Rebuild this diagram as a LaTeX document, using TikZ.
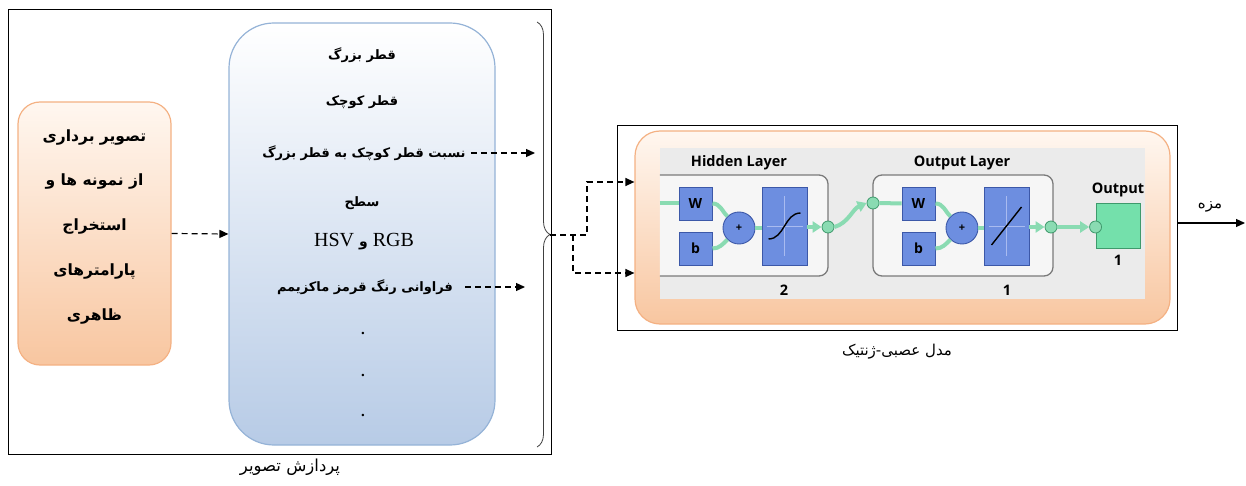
\documentclass[tikz,border=0pt]{standalone}
\usepackage{fontspec}
\setmainfont{Liberation Serif}
\newfontfamily\arabicfont[Script=Arabic]{DejaVu Sans}
\newfontfamily\uifont{Open Sans}
\TeXXeTstate=1
\usetikzlibrary{arrows.meta,decorations.pathreplacing}
\definecolor{orgB}{HTML}{F4B183}
\definecolor{orgT}{HTML}{FFF7F0}
\definecolor{orgBot}{HTML}{F8C6A0}
\definecolor{bluB}{HTML}{95B3D7}
\definecolor{bluBot}{HTML}{B7CBE6}
\definecolor{panelc}{HTML}{EBEBEB}
\definecolor{layerF}{HTML}{F6F6F6}
\definecolor{layerD}{HTML}{7A7A7A}
\definecolor{nnblue}{HTML}{6D8EE0}
\definecolor{nnblueD}{HTML}{3C58A8}
\definecolor{nncross}{HTML}{A9BBF0}
\definecolor{nngreen}{HTML}{8ADBB2}
\definecolor{nngreenD}{HTML}{3E9A6C}
\definecolor{outsq}{HTML}{74E0AB}
\newcommand\fatext[1]{\beginR #1\endR}
\begin{document}
\begin{tikzpicture}[x=1pt,y=-1pt,
  frame/.style={draw=black, line width=1pt, inner sep=0pt},
  orangebox/.style={draw=orgB, line width=1.2pt, rounded corners=22pt, top color=orgT, bottom color=orgBot, inner sep=0pt},
  bluebox/.style={draw=bluB, line width=1.2pt, rounded corners=45pt, top color=white, bottom color=bluBot, inner sep=0pt},
  fatxt/.style={font=\arabicfont\bfseries\fontsize{13}{15}\selectfont, inner sep=0pt},
  fabig/.style={font=\arabicfont\bfseries\fontsize{15.5}{17}\selectfont, inner sep=0pt},
  latxt/.style={font=\fontsize{20}{22}\selectfont, inner sep=0pt},
  dotxt/.style={font=\bfseries\fontsize{15}{17}\selectfont, inner sep=0pt},
  dasharrow/.style={draw, dash pattern=on 6pt off 4pt, line width=1.2pt, -{Triangle[length=9pt,width=8pt]}},
  layerbox/.style={draw=layerD, line width=1.3pt, fill=layerF, rounded corners=9pt, inner sep=0pt},
  nnb/.style={draw=nnblueD, line width=0.9pt, fill=nnblue, inner sep=0pt, font=\uifont\bfseries\fontsize{14}{15}\selectfont},
  gdot/.style={circle, draw=nngreenD, line width=0.8pt, fill=nngreen, minimum size=12pt, inner sep=0pt},
  gline/.style={draw=nngreen, line width=4pt},
  garrow/.style={draw=nngreen, line width=4pt, -{Triangle[length=9pt,width=11pt]}},
  uilabel/.style={font=\uifont\bfseries\fontsize{14.5}{16}\selectfont, inner sep=0pt},
  caption/.style={font=\arabicfont\fontsize{15}{17}\selectfont, inner sep=0pt}
]
\useasboundingbox (0,0) rectangle (1246,486);
% ---------- left part ----------
\node[frame, minimum width=543pt, minimum height=444pt] (leftframe) at (279.5,232) {};
\node[orangebox, minimum width=153pt, minimum height=263pt] (acq) at (94.5,233.5) {};
\node[fabig] (a1) at (94.5,138) {\fatext{تصویر برداری}};
\node[fabig] (a2) at (94.5,182) {\fatext{از نمونه ها و}};
\node[fabig] (a3) at (94.5,227) {\fatext{استخراج}};
\node[fabig] (a4) at (94.5,272) {\fatext{پارامترهای}};
\node[fabig] (a5) at (94.5,317) {\fatext{ظاهری}};
\node[bluebox, minimum width=266pt, minimum height=422pt] (proc) at (362,234) {};
\draw[dasharrow] (acq.east) -- (proc.west);
\node[fatxt] (f1) at (362,55) {\fatext{قطر بزرگ}};
\node[fatxt] (f2) at (362,102) {\fatext{قطر کوچک}};
\node[fatxt] (f3) at (364,153) {\fatext{نسبت قطر کوچک به قطر بزرگ}};
\node[fatxt] (f4) at (362,203) {\fatext{سطح}};
\node[latxt] (f5) at (364,242) {HSV {\arabicfont\bfseries\fontsize{14}{15}\selectfont و} RGB};
\node[fatxt] (f6) at (365,287) {\fatext{فراوانی رنگ قرمز ماکزیمم}};
\node[dotxt] (d1) at (363,333) {.};
\node[dotxt] (d2) at (363,375) {.};
\node[dotxt] (d3) at (363,415) {.};
\coordinate (e3) at (535,153);
\coordinate (e6) at (525,287);
\draw[dasharrow] ([xshift=5pt]f3.east) -- (e3);
\draw[dasharrow] ([xshift=12pt]f6.east) -- (e6);
\draw[decorate, decoration={brace, amplitude=13pt}, line width=0.8pt, black!75] (537,22) -- (537,447);
\node[caption, font=\arabicfont\fontsize{16.5}{18}\selectfont] (cap1) at (290,467) {\fatext{پردازش تصویر}};
% ---------- connectors to the network ----------
\coordinate (bt) at (550,235);
\coordinate (j1) at (573,235);
\coordinate (j2) at (587,235);
% ---------- right part ----------
\node[frame, minimum width=560pt, minimum height=204pt] (nnframe) at (897,228) {};
\node[orangebox, rounded corners=25pt, minimum width=535pt, minimum height=193pt] (nnbox) at (902.5,227.5) {};
\coordinate (i1) at (nnbox.west |- 0,182);
\coordinate (i2) at (nnbox.west |- 0,273);
\draw[dasharrow] (bt) -- (j2) |- (i1);
\draw[dasharrow] (j1) |- (i2);
\node[fill=panelc, minimum width=485pt, minimum height=151pt, inner sep=0pt] (panel) at (902.5,223.5) {};
\begin{scope}
\clip (panel.north west) rectangle (panel.south east);
\node[layerbox, minimum width=183pt, minimum height=101pt] (hid) at (736.5,225.5) {};
\end{scope}
\node[layerbox, minimum width=180pt, minimum height=101pt] (outl) at (963,225.5) {};
\node[uilabel] (hidlab) at (739,163) {Hidden Layer};
\node[uilabel] (outlab) at (962,163) {Output Layer};
\node[uilabel] (n2) at (784,290) {2};
\node[uilabel] (n1) at (1007,290) {1};
% hidden layer
\node[nnb, minimum width=33pt, minimum height=33pt] (W1) at (695.5,203.5) {W};
\node[nnb, minimum width=33pt, minimum height=33pt] (b1) at (695.5,248.5) {b};
\node[nnb, circle, minimum size=32pt, font=\uifont\bfseries\fontsize{11}{12}\selectfont] (p1) at (739,228) {+};
\node[nnb, minimum width=45pt, minimum height=78pt] (tf1) at (784.5,226) {};
\draw[nncross, line width=0.8pt] ([yshift=-30pt]tf1.center) -- ([yshift=30pt]tf1.center) ([xshift=-18pt]tf1.center) -- ([xshift=18pt]tf1.center);
\draw[black, line width=1.4pt] ([shift={(-16,13)}]tf1.center) .. controls +(16,0) and +(-16,0) .. ([shift={(16,-13)}]tf1.center);
\node[gdot] (o1) at (828,227) {};
% output layer
\node[gdot] (in2) at (873,203) {};
\node[nnb, minimum width=33pt, minimum height=33pt] (W2) at (918.5,203.5) {W};
\node[nnb, minimum width=33pt, minimum height=33pt] (b2) at (918.5,248.5) {b};
\node[nnb, circle, minimum size=32pt, font=\uifont\bfseries\fontsize{11}{12}\selectfont] (p2) at (962,228) {+};
\node[nnb, minimum width=45pt, minimum height=78pt] (tf2) at (1006.5,226) {};
\draw[nncross, line width=0.8pt] ([yshift=-30pt]tf2.center) -- ([yshift=30pt]tf2.center) ([xshift=-18pt]tf2.center) -- ([xshift=18pt]tf2.center);
\draw[black, line width=1.4pt] ([shift={(-15,19)}]tf2.center) -- ([shift={(15,-19)}]tf2.center);
\node[gdot] (o2) at (1051,227) {};
% output
\node[draw=nngreenD, line width=0.9pt, fill=outsq, minimum width=44pt, minimum height=45pt, inner sep=0pt] (osq) at (1118,225.5) {};
\node[gdot] (oin) at (osq.west |- 0,227) {};
\node[uilabel] (outtxt) at (1118,190) {Output};
\node[uilabel] (n1b) at (1118,260) {1};
% green connectors
\draw[gline] (panel.west |- W1) -- (W1.west);
\draw[gline] (W1.east) to[out=0,in=135] (p1.135);
\draw[gline] (b1.east) to[out=0,in=-135] (p1.-135);
\draw[gline] (p1.east) -- (tf1.west |- p1);
\draw[garrow] (tf1.east |- o1) -- (o1.west);
\draw[garrow] (o1.east) .. controls +(14,-4) and +(-14,6) .. (in2.west);
\draw[gline] (in2.east) -- (W2.west);
\draw[gline] (W2.east) to[out=0,in=135] (p2.135);
\draw[gline] (b2.east) to[out=0,in=-135] (p2.-135);
\draw[gline] (p2.east) -- (tf2.west |- p2);
\draw[garrow] (tf2.east |- o2) -- (o2.west);
\draw[garrow] (o2.east) -- (oin.west);
% output arrow
\coordinate (oend) at (1245,223);
\draw[line width=1.2pt, -{Triangle[length=9pt,width=8pt]}] (nnframe.east |- oend) -- (oend);
\node[caption] (taste) at (1210,207) {\fatext{مزه}};
\node[caption] (cap2) at (897,352) {\fatext{مدل عصبی-ژنتیک}};
\end{tikzpicture}
\end{document}
